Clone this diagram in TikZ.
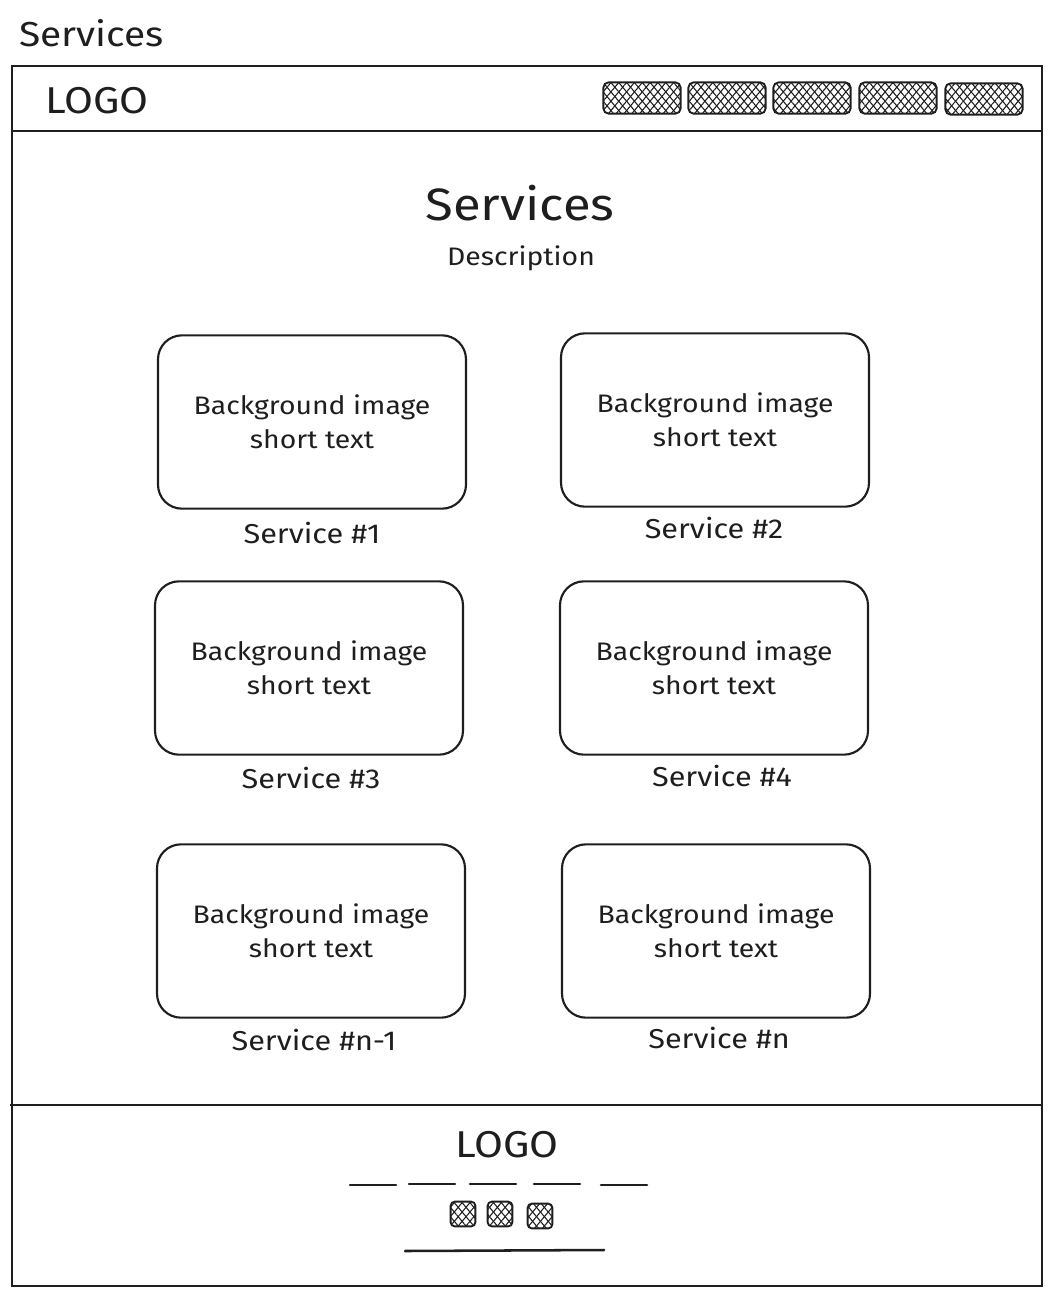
\documentclass[tikz,border=0pt]{standalone}
\usepackage{fontspec}
\setmainfont{Fira Sans}[FakeStretch=1.12]
\usetikzlibrary{patterns.meta}
\definecolor{ink}{HTML}{1E1E1E}
\begin{document}
\begin{tikzpicture}[x=0.75pt,y=-0.75pt,
  ink/.style={draw=ink,line width=1.6pt},
  card/.style={ink,rounded corners=18pt,minimum width=231pt,minimum height=130pt,align=center,
    font=\fontsize{19}{25.5}\selectfont,text=ink,inner sep=0pt},
  lbl/.style={font=\fontsize{20.5}{24}\selectfont,text=ink,inner sep=0pt},
  hatch/.style={draw=ink,line width=1.4pt,rounded corners=4pt,inner sep=0pt,
    preaction={pattern={Lines[angle=50,distance=4.5pt,line width=0.8pt]},pattern color=ink},
    preaction={pattern={Lines[angle=-50,distance=4.5pt,line width=0.8pt]},pattern color=ink}},
  navbtn/.style={hatch,minimum width=58pt,minimum height=23.5pt},
  icon/.style={hatch,minimum width=18.5pt,minimum height=18.5pt,rounded corners=3pt},
  bar/.style={draw=ink,line width=1.9pt,line cap=round}]
\useasboundingbox (0,0) rectangle (1053,1296);
% page title
\node[anchor=west,font=\fontsize{26}{30}\selectfont,text=ink,inner sep=0pt] (ptitle) at (19,33) {Services};
% frame
\draw[ink] (12,66) rectangle (1042,1286);
\draw[ink] (12,131) -- (1042,131);
\draw[ink] (10,1105) -- (1042,1105);
% header
\node[anchor=west,font=\fontsize{28}{32}\selectfont,text=ink,inner sep=0pt] (hlogo) at (45,101) {LOGO};
\node[navbtn] (n1) at (642,98) {};
\node[navbtn] (n2) at (727,98) {};
\node[navbtn] (n3) at (812,98) {};
\node[navbtn] (n4) at (898,98) {};
\node[navbtn] (n5) at (984,99) {};
% heading
\node[font=\fontsize{34}{38}\selectfont,text=ink,inner sep=0pt] (head) at (520,203) {Services};
\node[font=\fontsize{19}{22}\selectfont,text=ink,inner sep=0pt] (desc) at (521,258) {Description};
% cards
\node[card] (c1) at (312,422) {Background image\\short text};
\node[card] (c2) at (715,420) {Background image\\short text};
\node[card] (c3) at (309,668) {Background image\\short text};
\node[card] (c4) at (714,668) {Background image\\short text};
\node[card] (c5) at (311,931) {Background image\\short text};
\node[card] (c6) at (716,931) {Background image\\short text};
\node[lbl] (l1) at (312,533) {Service \#1};
\node[lbl] (l2) at (714,528) {Service \#2};
\node[lbl] (l3) at (311,778) {Service \#3};
\node[lbl] (l4) at (722,776) {Service \#4};
\node[lbl] (l5) at (314,1040) {Service \#n-1};
\node[lbl] (l6) at (719,1038) {Service \#n};
% footer
\node[font=\fontsize{28}{32}\selectfont,text=ink,inner sep=0pt] (flogo) at (507,1145) {LOGO};
\draw[bar] (350,1185) -- (396,1185);
\draw[bar] (409,1184) -- (455,1184);
\draw[bar] (470,1184) -- (516,1184);
\draw[bar] (534,1184) -- (580,1184);
\draw[bar] (601,1185) -- (647,1185);
\node[icon] (i1) at (463,1214) {};
\node[icon] (i2) at (500,1214) {};
\node[icon] (i3) at (540,1216) {};
\draw[bar] (405,1251) -- (604,1250);
\end{tikzpicture}
\end{document}
